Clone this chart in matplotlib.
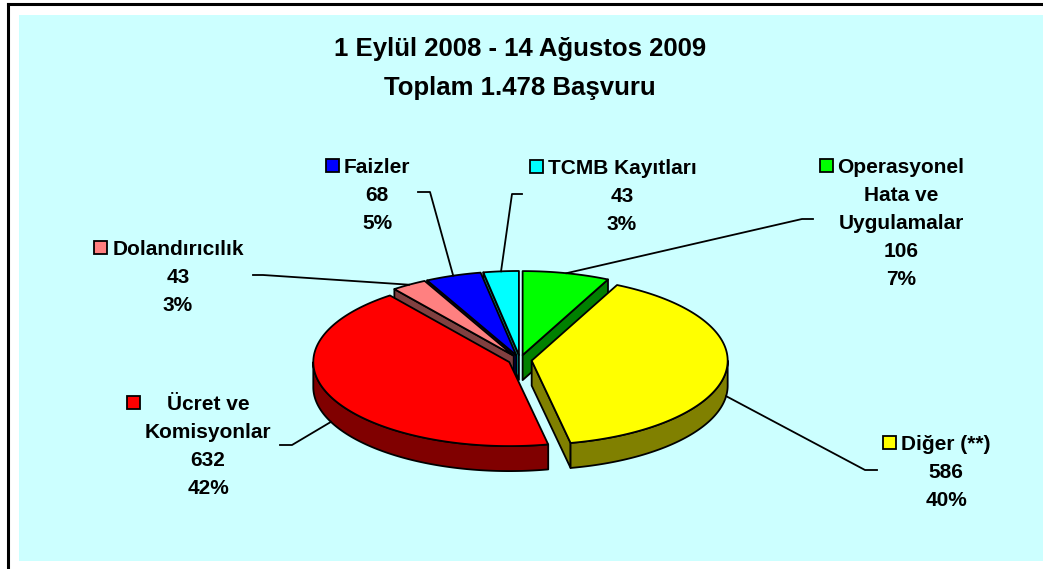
import numpy as np
import matplotlib
matplotlib.use("Agg")
import matplotlib.pyplot as plt
from matplotlib.patches import Polygon, Rectangle

plt.rcParams["font.family"] = ["Liberation Sans", "DejaVu Sans"]

# data, in slice order (clockwise from 12 o'clock)
names = [
    ["Operasyonel", "Hata ve", "Uygulamalar"],
    ["Diğer (**)"],
    ["Ücret ve", "Komisyonlar"],
    ["Dolandırıcılık"],
    ["Faizler"],
    ["TCMB Kayıtları"],
]
values = [106, 586, 632, 43, 68, 43]
percents = ["7%", "40%", "42%", "3%", "5%", "3%"]
title_lines = ["1 Eylül 2008 - 14 Ağustos 2009", "Toplam 1.478 Başvuru"]

top_colors = ["#00FF00", "#FFFF00", "#FF0000", "#FF8080", "#0000FF", "#00FFFF"]
side_colors = ["#008000", "#808000", "#800000", "#804040", "#000080", "#008080"]

# layout (pixel coordinates, y down)
W, H = 1043, 569
CX, CY = 520, 360
RX, RY = 196, 84
DEPTH = 25
EXPLODE = 0.06
LINE_H = 28
FS = 15
# centre x and centre y of first label line
label_xy = [(901, 165), (946, 442), (208, 402), (178, 247), (377, 165), (622, 166)]
# leader: x at label, x at elbow, y
leaders = [(813, 802, 219), (877, 865, 470), (280, 292, 445),
           (253, 263, 275), (418, 430, 192), (522, 512, 194)]

fig = plt.figure(figsize=(W / 100, H / 100), dpi=100)
fig.patch.set_facecolor("white")
ax = fig.add_axes([0, 0, 1, 1])
ax.set_xlim(0, W)
ax.set_ylim(H, 0)
ax.axis("off")

ax.add_patch(Rectangle((19, 15), W - 19, 561 - 15, facecolor="#CCFFFF", edgecolor="none"))
ax.plot([8, 8], [4, H], color="black", lw=2.2, solid_capstyle="projecting")
ax.plot([8, W], [4, 4], color="black", lw=2.2, solid_capstyle="projecting")

for k, line in enumerate(title_lines):
    ax.text(520, 56 + k * 39, line, ha="center", va="baseline",
            fontsize=18.5, fontweight="bold")


def rim(t, ox, oy, dz=0.0):
    return np.column_stack([CX + ox + RX * np.cos(t), CY + oy - RY * np.sin(t) + dz])


total = sum(values)
spans = np.array(values) / total * 360.0
starts = 90.0 - np.concatenate([[0.0], np.cumsum(spans)[:-1]])
ends = starts - spans
mids = (starts + ends) / 2

offsets = []
for m in np.radians(mids):
    offsets.append((EXPLODE * RX * np.cos(m), -EXPLODE * RY * np.sin(m)))

EDGE = dict(edgecolor="black", lw=1.3, joinstyle="round")

order = np.argsort(-np.sin(np.radians(mids)))
for i in order:
    t0, t1 = starts[i], ends[i]
    ox, oy = offsets[i]
    apex = np.array([[CX + ox, CY + oy]])
    ts = list(np.linspace(t0, t1, 240))
    for k in range(-4, 5):
        if t1 < k * 180 < t0:
            ts.append(k * 180.0)
    ts = np.radians(np.sort(np.array(ts))[::-1])

    # radial cut faces
    for t, vis in ((t0, np.cos(np.radians(t0)) < 0), (t1, np.cos(np.radians(t1)) > 0)):
        if vis:
            tr = np.radians(t)
            p_top = rim(np.array([tr]), ox, oy)
            p_bot = rim(np.array([tr]), ox, oy, DEPTH)
            poly = np.vstack([apex, p_top, p_bot, apex + [0, DEPTH]])
            ax.add_patch(Polygon(poly, closed=True, facecolor=side_colors[i], **EDGE))

    # curved outer wall (front half only)
    front = np.sin(ts) <= 1e-9
    seg = []
    segments = []
    for t, f in zip(ts, front):
        if f:
            seg.append(t)
        elif seg:
            segments.append(seg)
            seg = []
    if seg:
        segments.append(seg)
    for seg in segments:
        if len(seg) < 2:
            continue
        seg = np.array(seg)
        poly = np.vstack([rim(seg, ox, oy), rim(seg[::-1], ox, oy, DEPTH)])
        ax.add_patch(Polygon(poly, closed=True, facecolor=side_colors[i], **EDGE))

    # top face
    poly = np.vstack([apex, rim(ts, ox, oy)])
    ax.add_patch(Polygon(poly, closed=True, facecolor=top_colors[i], **EDGE))

# leader lines
for i, (xl, xe, yl) in enumerate(leaders):
    m = np.radians(mids[i])
    ox, oy = offsets[i]
    dz = DEPTH if np.sin(m) < 0 else 0.0
    a = rim(np.array([m]), ox, oy, dz)[0]
    ax.plot([xl, xe, a[0]], [yl, yl, a[1]], color="black", lw=1.3, zorder=5)

# labels
texts = []
for i, (lx, ly) in enumerate(label_xy):
    lines = names[i] + [str(values[i]), percents[i]]
    group = []
    for j, line in enumerate(lines):
        group.append(ax.text(lx, ly + j * LINE_H + 7.5, line, ha="center",
                             va="baseline", fontsize=FS, fontweight="bold", zorder=6))
    texts.append(group)

fig.canvas.draw()
renderer = fig.canvas.get_renderer()
inv = ax.transData.inverted()
for i, group in enumerate(texts):
    left = min(inv.transform(t.get_window_extent(renderer).get_points())[:, 0].min()
               for t in group)
    sz = 13
    ax.add_patch(Rectangle((left - 5 - sz, label_xy[i][1] - sz / 2), sz, sz,
                           facecolor=top_colors[i], edgecolor="black", lw=1.3, zorder=6))

fig.savefig("out.png", dpi=100)
